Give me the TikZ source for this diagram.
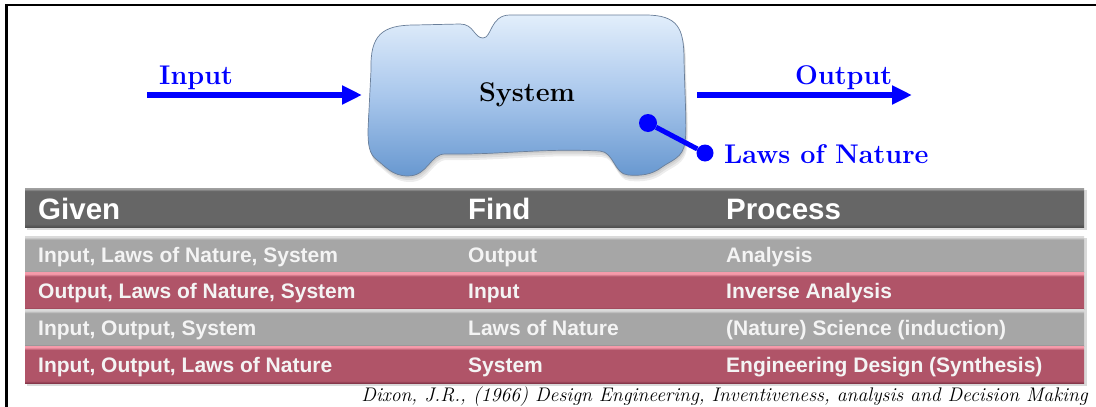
\documentclass[tikz,border=0pt]{standalone}
\usepackage{fontspec}
\newfontfamily\tabfont{Liberation Sans}
\usetikzlibrary{arrows.meta}
\definecolor{pureblue}{HTML}{0000FF}
\definecolor{hdrgray}{HTML}{666666}
\definecolor{hdrtop}{HTML}{A0A0A0}
\definecolor{hdrbot}{HTML}{505050}
\definecolor{rowgray}{HTML}{A6A6A6}
\definecolor{rowgraytop}{HTML}{DADADA}
\definecolor{rowgraybot}{HTML}{888888}
\definecolor{rowred}{HTML}{B05468}
\definecolor{rowredtop}{HTML}{F59AAA}
\definecolor{rowredbot}{HTML}{86374A}
\definecolor{sysTop}{HTML}{E2EEFB}
\definecolor{sysMid}{HTML}{A9C7EC}
\definecolor{sysBot}{HTML}{6898D0}
\definecolor{sysEdge}{HTML}{6A7F9A}
\definecolor{tabtext}{HTML}{F4F4F4}
\pgfdeclareverticalshading{hdrshade}{100bp}{color(0bp)=(hdrbot); color(25bp)=(hdrbot); color(29bp)=(hdrgray); color(71bp)=(hdrgray); color(74bp)=(hdrtop); color(75bp)=(hdrtop); color(100bp)=(hdrtop)}
\pgfdeclareverticalshading{grayrowshade}{100bp}{color(0bp)=(rowgraybot); color(25bp)=(rowgraybot); color(28bp)=(rowgray); color(70bp)=(rowgray); color(73.5bp)=(rowgraytop); color(75bp)=(rowgraytop); color(100bp)=(rowgraytop)}
\pgfdeclareverticalshading{redrowshade}{100bp}{color(0bp)=(rowredbot); color(25bp)=(rowredbot); color(28bp)=(rowred); color(70bp)=(rowred); color(73.5bp)=(rowredtop); color(75bp)=(rowredtop); color(100bp)=(rowredtop)}
\def\sysoutline{(371,70)
  .. controls (370,35) and (382,25) .. (415,25)
  -- (460,24)
  .. controls (474,24) and (474,38) .. (483,38)
  .. controls (492,38) and (490,15) .. (510,15)
  -- (645,15)
  .. controls (678,15) and (684,28) .. (684,60)
  .. controls (685,100) and (687,130) .. (685,142)
  .. controls (683,158) and (672,160) .. (662,167)
  .. controls (652,175) and (640,176) .. (628,175)
  .. controls (614,174) and (614,152) .. (600,151)
  .. controls (540,148) and (500,155) .. (445,154)
  .. controls (430,154) and (428,176) .. (408,176)
  .. controls (392,176) and (385,166) .. (377,160)
  .. controls (369,154) and (368,145) .. (368,130)
  -- cycle}
\begin{document}
\begin{tikzpicture}[x=1pt,y=-1pt,
  bluearrow/.style={draw=pureblue, line width=6pt, -{Triangle[length=20pt,width=18pt]}},
  bluelabel/.style={text=pureblue, font=\fontsize{27}{31}\selectfont\bfseries, inner sep=0pt, anchor=base west},
  dotnode/.style={circle, fill=pureblue, inner sep=0pt, minimum size=18pt},
  hdrtext/.style={text=white, font=\tabfont\bfseries\fontsize{29.5}{33}\selectfont, inner sep=0pt, anchor=base west},
  rowtext/.style={text=tabtext, font=\tabfont\bfseries\fontsize{21}{25}\selectfont, inner sep=0pt, anchor=base west},
  citetext/.style={font=\fontsize{19.7}{23}\selectfont\itshape, inner sep=0pt, anchor=base east}
]
\useasboundingbox (0,0) rectangle (1096,407);
\fill[white] (0,0) rectangle (1096,407);
% frame
\draw[line width=2.5pt] (6.5,407) -- (6.5,5) -- (1096,5);

% system shape
\foreach \s in {2,4,6}{\fill[black, opacity=0.07, shift={(\s/3,\s)}] \sysoutline;}
\path[top color=sysTop, bottom color=sysBot, middle color=sysMid, draw=sysEdge, line width=0.7pt] \sysoutline;
\node[anchor=base, font=\fontsize{27}{31}\selectfont\bfseries, inner sep=0pt] (sys) at (527,101) {System};

% input / output
\coordinate (inA) at (147,95);
\coordinate (inB) at (362,95);
\coordinate (outA) at (697,95);
\coordinate (outB) at (912,95);
\draw[bluearrow] (inA) -- (inB);
\draw[bluearrow] (outA) -- (outB);
\node[bluelabel] (inlbl) at (159,84) {Input};
\node[bluelabel] (outlbl) at (795,84) {Output};

% laws of nature
\node[dotnode] (lawA) at (648,123) {};
\node[dotnode, minimum size=17pt] (lawB) at (705,153) {};
\draw[pureblue, line width=5pt] (lawA) -- (lawB);
\node[bluelabel] (laws) at (724,163) {Laws of Nature};

% table shadow
\fill[black, opacity=0.15] (27,190) rectangle (1087,230);
\fill[black, opacity=0.15] (27,238) rectangle (1087,386);
% header
\path[shading=hdrshade] (25,188) rectangle (1084,227);
\node[hdrtext] (hG) at (38,219) {Given};
\node[hdrtext] (hF) at (468,219) {Find};
\node[hdrtext] (hP) at (726,219) {Process};
% rows
\path[shading=grayrowshade] (25,236) rectangle (1084,272.75);
\path[shading=redrowshade] (25,272.75) rectangle (1084,309.5);
\path[shading=grayrowshade] (25,309.5) rectangle (1084,346.25);
\path[shading=redrowshade] (25,346.25) rectangle (1084,383);

\node[rowtext] (g1) at (38,262) {Input, Laws of Nature, System};
\node[rowtext] (f1) at (468,262) {Output};
\node[rowtext] (p1) at (726,262) {Analysis};
\node[rowtext] (g2) at (38,298.75) {Output, Laws of Nature, System};
\node[rowtext] (f2) at (468,298.75) {Input};
\node[rowtext] (p2) at (726,298.75) {Inverse Analysis};
\node[rowtext] (g3) at (38,335.5) {Input, Output, System};
\node[rowtext] (f3) at (468,335.5) {Laws of Nature};
\node[rowtext] (p3) at (726,335.5) {(Nature) Science (induction)};
\node[rowtext] (g4) at (38,372.25) {Input, Output, Laws of Nature};
\node[rowtext] (f4) at (468,372.25) {System};
\node[rowtext] (p4) at (726,372.25) {Engineering Design (Synthesis)};

% citation
\node[citetext] (cite) at (1088,401.5) {Dixon, J.R., (1966) Design Engineering, Inventiveness, analysis and Decision Making};
% keep the right margin clear
\fill[white] (1090,6.3) rectangle (1096,407);
\end{tikzpicture}
\end{document}
